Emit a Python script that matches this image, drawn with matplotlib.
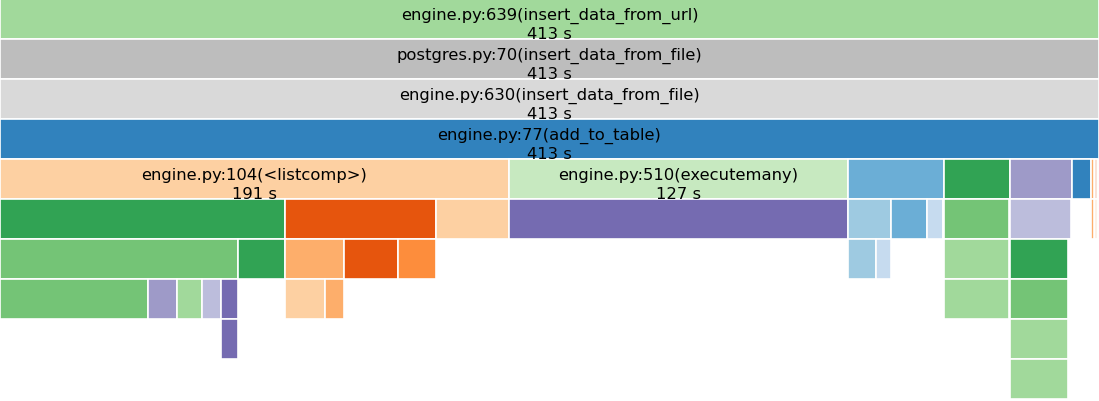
import matplotlib.pyplot as plt

# flame graph frames (seconds), one entry per box
frame_depth = [0, 1, 2, 3,
               4, 4, 4, 4, 4, 4, 4, 4,
               5, 5, 5, 5, 5, 5, 5, 5, 5, 5, 5, 5,
               6, 6, 6, 6, 6, 6, 6, 6, 6, 6, 6, 6,
               7, 7, 7, 7, 7, 7, 7, 7, 7, 7,
               8, 8,
               9]
frame_start = [0, 0, 0, 0,
               0, 191.3, 318.7, 354.8, 379.6, 402.9, 410.0, 411.6,
               0, 107.1, 163.8, 191.3, 318.7, 334.8, 348.4, 354.4, 354.8, 379.6, 410.0, 411.6,
               0, 89.4, 107.1, 129.3, 149.6, 318.7, 329.2, 354.4, 354.8, 379.6, 401.6, 411.8,
               0, 55.6, 66.5, 75.9, 83.1, 107.1, 122.1, 354.8, 379.6, 401.6,
               83.1, 379.6,
               379.6]
frame_secs = [413, 413, 413, 413,
              191.3, 127.4, 36.1, 24.8, 23.3, 7.1, 1.2, 0.8,
              107.1, 56.7, 27.4, 127.4, 16.2, 13.5, 6.0, 0.4, 24.4, 23.0, 1.2, 0.6,
              89.4, 17.7, 22.2, 20.3, 14.3, 10.5, 5.6, 0.4, 24.4, 21.8, 0.5, 0.3,
              55.6, 10.9, 9.4, 7.1, 6.4, 15.0, 7.1, 24.4, 21.8, 0.5,
              6.4, 21.8,
              21.8]
frame_label = ["engine.py:639(insert_data_from_url)",
               "postgres.py:70(insert_data_from_file)",
               "engine.py:630(insert_data_from_file)",
               "engine.py:77(add_to_table)",
               "engine.py:104(<listcomp>)", "engine.py:510(executemany)"]
frame_label += [""] * (len(frame_secs) - len(frame_label))

frame_color = ["#a1d99b", "#bdbdbd", "#d9d9d9", "#3182bd",
               "#fdd0a2", "#c7e9c0", "#6baed6", "#31a354", "#9e9ac8", "#3182bd", "#fdae6b", "#e6550d",
               "#31a354", "#e6550d", "#fdd0a2", "#756bb1", "#9ecae1", "#6baed6", "#c6dbef", "#756bb1",
               "#74c476", "#bcbddc", "#fdae6b", "#fdae6b",
               "#74c476", "#31a354", "#fdae6b", "#e6550d", "#fd8d3c", "#9ecae1", "#c6dbef", "#756bb1",
               "#a1d99b", "#31a354", "#bcbddc", "#fdae6b",
               "#74c476", "#9e9ac8", "#a1d99b", "#bcbddc", "#756bb1", "#fdd0a2", "#fdae6b",
               "#a1d99b", "#74c476", "#bcbddc",
               "#756bb1", "#a1d99b",
               "#a1d99b"]

fig = plt.figure(figsize=(10.99, 4.02), dpi=100)
ax = fig.add_axes([0, 0, 1, 1])

ax.barh([d + 0.5 for d in frame_depth], frame_secs, left=frame_start, height=1,
        color=frame_color, edgecolor="white", linewidth=1.2)

for d, s, w, lab in zip(frame_depth, frame_start, frame_secs, frame_label):
    if lab:
        ax.text(s + w / 2, d + 0.4, lab, ha="center", va="center", fontsize=11.8)
        ax.text(s + w / 2, d + 0.86, f"{round(w)} s", ha="center", va="center", fontsize=11.8)

ax.set_xlim(0, 413)
ax.set_ylim(10.05, 0)
ax.axis("off")

fig.savefig("out.png", dpi=100)
